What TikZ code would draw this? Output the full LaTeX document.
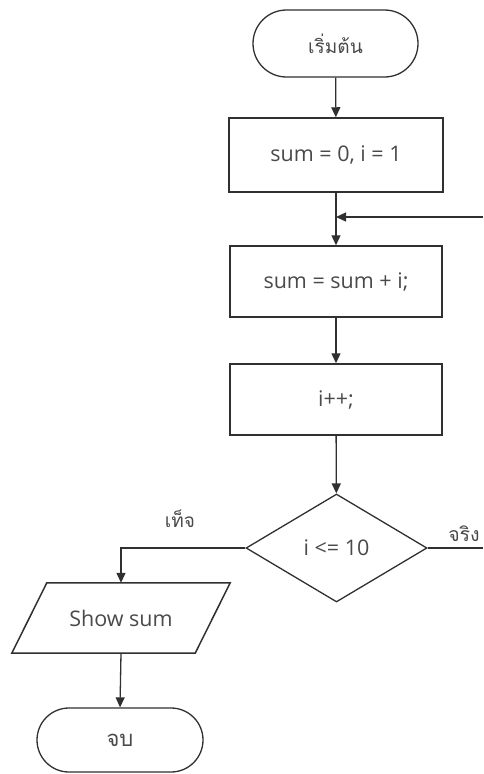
\documentclass[tikz,border=0pt]{standalone}
\usepackage{fontspec}
\setmainfont{Open Sans}
\newfontfamily\thaifont[Script=Thai]{Loma}
\usetikzlibrary{shapes.misc,shapes.geometric,arrows.meta,calc}
\definecolor{linec}{HTML}{303030}
\definecolor{txtc}{HTML}{4A4A4A}
\begin{document}
\begin{tikzpicture}[x=1pt,y=-1pt,
  every node/.style={text=txtc, font=\fontsize{21.5}{24}\selectfont},
  terminal/.style={rounded rectangle, draw=linec, line width=1.3pt, inner sep=0pt},
  procbox/.style={rectangle, draw=linec, line width=1.5pt, inner sep=0pt},
  decision/.style={diamond, draw=linec, line width=1.3pt, inner sep=0pt},
  flow/.style={draw=linec, line width=1.3pt, -{Triangle[length=10pt,width=9pt]}},
  plain/.style={draw=linec, line width=1.3pt},
  thailabel/.style={font=\thaifont\fontsize{19}{22}\selectfont}]
\useasboundingbox (0,0) rectangle (483,774);
\fill[white] (0,0) rectangle (483,774);

\node[terminal, minimum width=165pt, minimum height=67pt, thailabel] (start) at (335.5,43.5) {เริ่มต้น};
\node[procbox, minimum width=214pt, minimum height=74pt] (init) at (336,155) {sum = 0, i = 1};
\node[procbox, minimum width=212pt, minimum height=71pt] (add) at (336,281.5) {sum = sum + i;};
\node[procbox, minimum width=212pt, minimum height=71pt] (inc) at (336,399.5) {i++;};
\node[decision, minimum width=181pt, minimum height=108pt] (cond) at (336.5,548) {i <= 10};
\node[minimum width=183pt, minimum height=70pt, inner sep=0pt] (show) at (121,618) {Show sum};
\draw[plain, line width=1.5pt] ([xshift=17.5pt]show.north west) -- ([xshift=17.5pt]show.north east)
  -- ([xshift=-17.5pt]show.south east) -- ([xshift=-17.5pt]show.south west) -- cycle;
\node[terminal, minimum width=166pt, minimum height=64pt, thailabel, font=\thaifont\fontsize{22}{24}\selectfont] (stop) at (120,740) {จบ};

\coordinate (loopR) at (483,217);
\coordinate (trueR) at (483,548);
\coordinate (falseL) at (121,548);

\node[thailabel, font=\thaifont\fontsize{19.5}{22}\selectfont] (tlab) at (464,534) {จริง};
\node[thailabel, font=\thaifont\fontsize{19}{22}\selectfont] (flab) at (180,519) {เท็จ};

\draw[flow] (start) -- (init);
\draw[flow] (init) -- (add);
\draw[flow] (loopR) -- (loopR -| init.south);
\draw[flow] (add) -- (inc);
\draw[flow] (inc) -- (cond);
\draw[plain] (cond.east) -- (trueR);
\draw[flow] (cond.west) -- (falseL) -- (show.north);
\draw[flow] (show.south) -- (stop.north);
\end{tikzpicture}
\end{document}
